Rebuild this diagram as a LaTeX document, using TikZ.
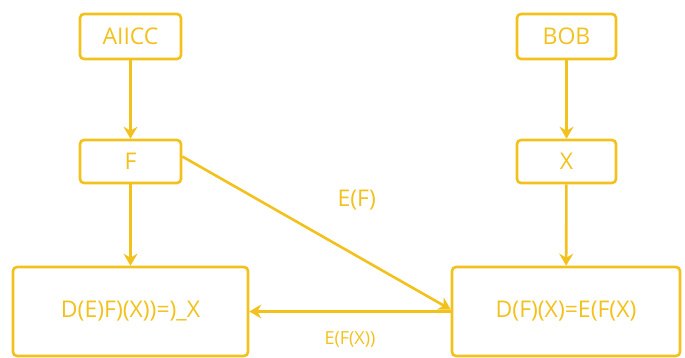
\documentclass[tikz,border=0pt]{standalone}
\usepackage{fontspec}
\setmainfont{Open Sans}
\usetikzlibrary{arrows.meta}
\definecolor{gold}{RGB}{243,193,28}

\begin{document}
\begin{tikzpicture}[x=0.5pt,y=-0.5pt,line width=1.3pt,draw=gold,
    box/.style={rounded corners=2pt,draw=gold,text=gold,font=\fontsize{11.5}{13}\selectfont},
    flow/.style={-{Stealth[length=6pt,width=7pt,inset=2pt]},draw=gold}]
  \useasboundingbox (0,0) rectangle (685,358);

      \begin{scope}[every node/.style={box}]
        \node[minimum width=50.5pt,minimum height=22.5pt] (alice) at (130.5,36.5) {AIICC};
        \node[minimum width=50.5pt,minimum height=21.5pt] (f)     at (130.5,161.5) {F};
        \node[minimum width=117.5pt,minimum height=44.5pt] (dec)  at (130.5,311.5) {D(E)F)(X))=)\_X};
        \node[minimum width=49.5pt,minimum height=22.5pt] (bob)   at (566.5,36.5) {BOB};
        \node[minimum width=49.5pt,minimum height=21.5pt] (x)     at (566.5,161.5) {X};
        \node[minimum width=114pt,minimum height=44.5pt] (enc)    at (566,311.5) {D(F)(X)=E(F(X)};
      \end{scope}

      \begin{scope}[every node/.style={text=gold}]
        \path (alice) edge[flow] (f);
        \path (f)     edge[flow] (dec);
        \path (bob)   edge[flow] (x);
        \path (x)     edge[flow] (enc);
        \path ([yshift=2.5pt]f.east) edge[flow] node[pos=0.65,above=19pt,font=\fontsize{11.5}{13}\selectfont] {E(F)} ([yshift=1pt]enc.west);
        \path (enc)   edge[flow] node[below=6pt,font=\fontsize{9}{10}\selectfont] {E(F(X))} (dec);
      \end{scope}

    \end{tikzpicture}
\end{document}
